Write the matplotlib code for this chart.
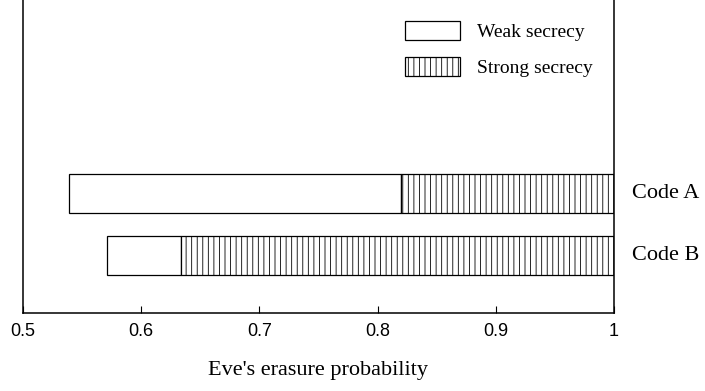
import matplotlib
matplotlib.use("Agg")
import matplotlib.pyplot as plt
import matplotlib.transforms as mtransforms
import numpy as np

CODES = ["Code A", "Code B"]
WEAK_START = [0.539, 0.571]
STRONG_START = [0.820, 0.634]
STRONG_END = [1.0, 1.0]
XTICKS = [0.5, 0.6, 0.7, 0.8, 0.9, 1.0]
XTICK_LABELS = ["0.5", "0.6", "0.7", "0.8", "0.9", "1"]

W, H = 705, 391
plt.rcParams["hatch.color"] = "#a6a6a6"
plt.rcParams["hatch.linewidth"] = 0.6

fig = plt.figure(figsize=(W / 100, H / 100), dpi=100)
ax = fig.add_axes([23 / W, 1 - 313 / H, (614 - 23) / W, 313 / H])

y = np.array([2, 1])
weak_start = np.array(WEAK_START)
strong_start = np.array(STRONG_START)
strong_end = np.array(STRONG_END)

ax.barh(y, strong_start - weak_start, left=weak_start, height=0.63,
        color="white", edgecolor="black", linewidth=0.9, label="Weak secrecy")
ax.barh(y, strong_end - strong_start, left=strong_start, height=0.63,
        color="white", edgecolor="black", linewidth=0.9, hatch="|||",
        label="Strong secrecy")

ax.set_xlim(0.5, 1.0)
ax.set_ylim(0.06, 5.15)
ax.set_yticks([])
ax.set_xticks(XTICKS)
ax.set_xticklabels(XTICK_LABELS, family="Liberation Sans", fontsize=13)
ax.tick_params(axis="x", direction="in", length=5, width=0.8, pad=7)
ax.spines["top"].set_visible(False)
for s in ["left", "right", "bottom"]:
    ax.spines[s].set_linewidth(1.1)

ax.set_xlabel("Eve's erasure probability", family="Liberation Serif",
              fontsize=16, labelpad=15)

trans = mtransforms.blended_transform_factory(ax.transAxes, ax.transData)
for yi, name in zip(y, CODES):
    ax.text(1.03, yi, name, transform=trans, ha="left", va="center",
            family="Liberation Serif", fontsize=16)

leg = ax.legend(loc="upper left", bbox_to_anchor=(405 / W, 1 - 21 / H),
                bbox_transform=fig.transFigure, frameon=False, borderpad=0,
                borderaxespad=0, handlelength=2.83, handleheight=1.13,
                handletextpad=0.88, labelspacing=0.8,
                prop={"family": "Liberation Serif", "size": 14})

fig.savefig("out.png", dpi=100)
